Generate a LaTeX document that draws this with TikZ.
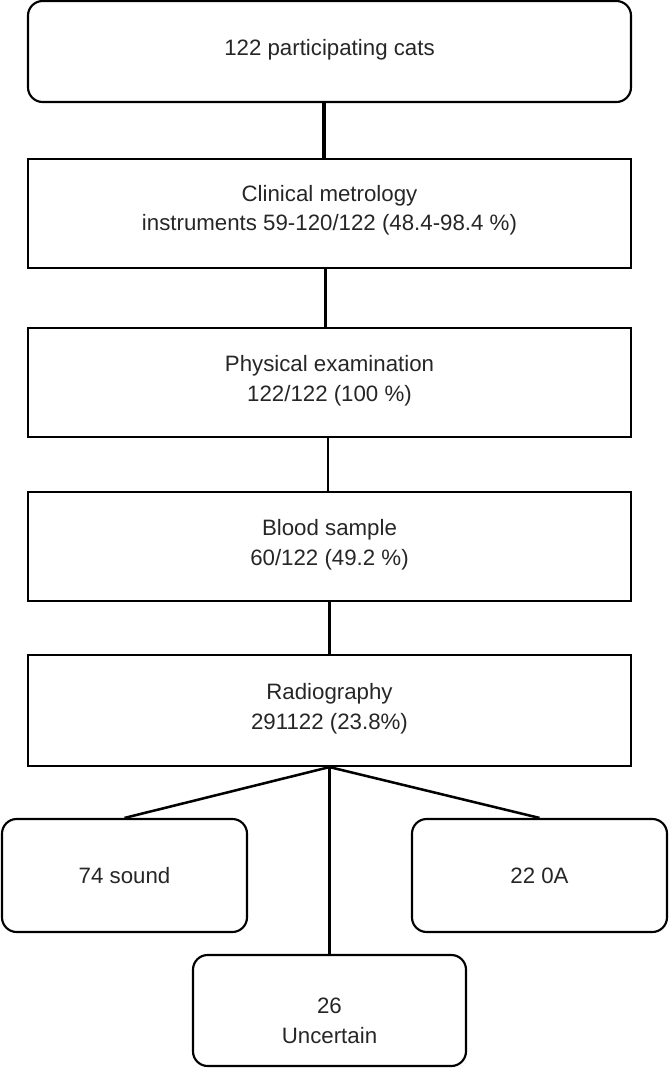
\documentclass[tikz,border=0pt]{standalone}
\usepackage{fontspec}
\setmainfont{Liberation Sans}
\newcommand{\twoline}[2]{\begin{tabular}{@{}c@{}}#1\\#2\end{tabular}}
\newcommand{\shifttext}[2]{\raisebox{#1}[\height][\depth]{#2}}
\begin{document}
\begin{tikzpicture}[x=0.75pt,y=-0.75pt,
  box/.style={draw=black,line width=1.6pt,rectangle,inner sep=0pt,align=center,
    font=\fontsize{16.7}{22}\selectfont,text=black!85},
  rbox/.style={box,rounded corners=11pt},
  mainbox/.style={box,minimum width=603*0.75pt},
  link/.style={draw=black,line width=1.9pt}]
\useasboundingbox (0,0) rectangle (669,1068);
\node[mainbox,rbox,minimum height=101*0.75pt] (b1) at (329.5,51.5) {\shifttext{1.5pt}{122 participating cats}};
\node[mainbox,minimum height=109*0.75pt] (b2) at (329.5,213.5) {\shifttext{2.5pt}{\twoline{Clinical metrology}{instruments 59-120/122 (48.4-98.4 \%)}}};
\node[mainbox,minimum height=109*0.75pt] (b3) at (329.5,382.5) {\shifttext{1.5pt}{\twoline{Physical examination}{122/122 (100 \%)}}};
\node[mainbox,minimum height=109*0.75pt] (b4) at (329.5,546.5) {\shifttext{1.5pt}{\twoline{Blood sample}{60/122 (49.2 \%)}}};
\node[mainbox,minimum height=111*0.75pt] (b5) at (329.5,710.5) {\shifttext{1.5pt}{\twoline{Radiography}{291122 (23.8\%)}}};
\node[rbox,minimum width=245*0.75pt,minimum height=113*0.75pt] (l) at (124.5,875.5) {74 sound};
\node[rbox,minimum width=255*0.75pt,minimum height=113*0.75pt] (r) at (539.5,875.5) {22 0A};
\node[rbox,minimum width=273*0.75pt,minimum height=111*0.75pt] (u) at (329.5,1010.5) {\shifttext{-9pt}{\twoline{26}{Uncertain}}};
\draw[link,line width=3pt] ([xshift=-4pt]b1.south) -- ([xshift=-4pt]b2.north);
\draw[link] ([xshift=-3pt]b2.south) -- ([xshift=-3pt]b3.north);
\draw[link] ([xshift=-1pt]b3.south) -- ([xshift=-1pt]b4.north);
\draw[link] (b4.south) -- (b5.north);
\draw[link] (b5.south) -- (l.north);
\draw[link] (b5.south) -- (r.north);
\draw[link] (b5.south) -- (u.north);
\end{tikzpicture}
\end{document}
